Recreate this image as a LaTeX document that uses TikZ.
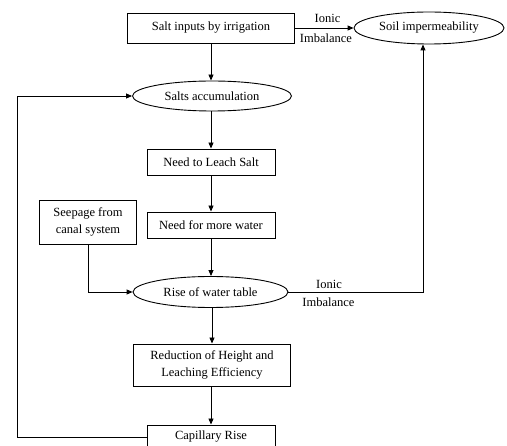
\documentclass[tikz,border=0pt]{standalone}
\usepackage{fontspec}
\setmainfont{Liberation Serif}
\usetikzlibrary{arrows.meta,shapes.geometric}
\begin{document}
\begin{tikzpicture}[x=1pt,y=-1pt,
  every node/.style={font=\fontsize{12.5}{17}\selectfont},
  boxnode/.style={draw,line width=0.9pt,rectangle,inner sep=0pt,align=center},
  ellnode/.style={draw,line width=0.9pt,ellipse,inner sep=0pt},
  conn/.style={line width=0.9pt,-{Triangle[length=6pt,width=5pt]}},
  lbl/.style={inner sep=0pt}]
\useasboundingbox (0,0) rectangle (507,446);
\node[boxnode,minimum width=167pt,minimum height=30pt] (salt) at (211,28) {Salt inputs by irrigation};
\node[ellnode,minimum width=150pt,minimum height=32pt] (soil) at (429,28) {Soil impermeability};
\node[ellnode,minimum width=159pt,minimum height=30pt] (acc) at (212,96) {Salts accumulation};
\node[boxnode,minimum width=128pt,minimum height=26pt] (leach) at (211,162) {Need to Leach Salt};
\node[boxnode,minimum width=128pt,minimum height=26pt] (more) at (211,225) {Need for more water};
\node[boxnode,minimum width=97pt,minimum height=44pt] (seep) at (88,222) {Seepage from\\canal system};
\node[ellnode,minimum width=155pt,minimum height=31pt] (rise) at (210.5,292) {Rise of water table};
\node[boxnode,minimum width=157pt,minimum height=42pt] (red) at (212,365) {Reduction of Height and\\Leaching Efficiency};
\node[boxnode,minimum width=128pt,minimum height=24pt] (cap) at (211,437) {Capillary Rise};
\node[lbl] (i1) at (327.5,18) {Ionic};
\node[lbl] (i2) at (326,38) {Imbalance};
\node[lbl] (i3) at (329,284) {Ionic};
\node[lbl] (i4) at (328.5,302.5) {Imbalance};
\coordinate (c1) at (423,292);
\coordinate (c2) at (88,292);
\coordinate (c3) at (17,437);
\coordinate (c4) at (17,96);
\draw[conn] (salt.east) -- (soil.west);
\draw[conn] (salt.south) -- (acc.north -| salt.south);
\draw[conn] (acc.south -| leach.north) -- (leach.north);
\draw[conn] (leach) -- (more);
\draw[conn] (more.south) -- (rise.north -| more.south);
\draw[conn] (rise.south -| red.north) -- (red.north);
\draw[conn] (red.south -| cap.north) -- (cap.north);
\draw[conn] (seep.south) -- (seep.south |- c2) -- (rise.west);
\draw[conn] (rise.east) -- (c1) -- (c1 |- soil.south);
\draw[conn] (cap.west |- c3) -- (c3) -- (c4) -- (acc.west);
\end{tikzpicture}
\end{document}
